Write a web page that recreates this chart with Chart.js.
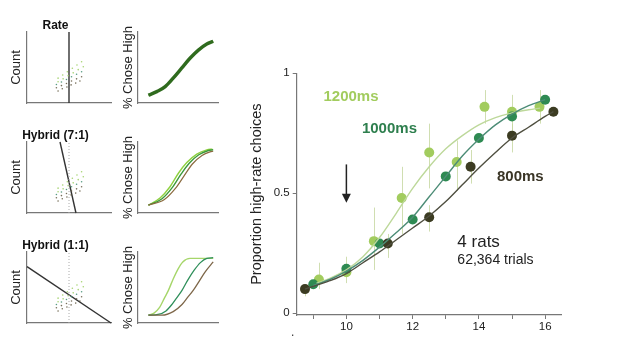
<!DOCTYPE html>
<html>
<head>
<meta charset="utf-8">
<script src="https://cdn.jsdelivr.net/npm/chart.js@4.4.1/dist/chart.umd.min.js"></script>
<style>
  html, body { margin: 0; padding: 0; background: #fff; }
  body { width: 617px; height: 350px; position: relative; overflow: hidden; font-family: "Liberation Sans", Arial, sans-serif; }
  canvas { position: absolute; }
  .dot { position: absolute; left: 291px; top: 325px; font-size: 12px; color: #333; }
</style>
</head>
<body>
<canvas id="count1" width="115" height="110" style="left:0;top:0"></canvas>
<canvas id="count2" width="115" height="110" style="left:0;top:110px"></canvas>
<canvas id="count3" width="115" height="110" style="left:0;top:220px"></canvas>
<canvas id="chose1" width="110" height="110" style="left:110px;top:0"></canvas>
<canvas id="chose2" width="110" height="110" style="left:110px;top:110px"></canvas>
<canvas id="chose3" width="110" height="110" style="left:110px;top:220px"></canvas>
<canvas id="results" width="377" height="300" style="left:240px;top:50px"></canvas>
<div class="dot">.</div>
<script>
'use strict';

// ---- main panel: proportion of high-rate choices per stimulus rate ----
const X_800 = [8.75, 11.25, 12.5, 13.75, 15, 16.25];
const Y_800 = [0.10, 0.29, 0.40, 0.61, 0.74, 0.84];
const LO_800 = [0.07, 0.23, 0.34, 0.54, 0.67, 0.84];
const HI_800 = [0.12, 0.33, 0.45, 0.68, 0.79, 0.84];

const X_1000 = [9, 10, 11, 12, 13, 14, 15, 16];
const Y_1000 = [0.12, 0.185, 0.29, 0.39, 0.57, 0.73, 0.82, 0.89];

const X_1200 = [9.17, 10, 10.83, 11.67, 12.5, 13.33, 14.17, 15, 15.83];
const Y_1200 = [0.14, 0.17, 0.30, 0.48, 0.67, 0.63, 0.86, 0.84, 0.86];
const LO_1200 = [0.10, 0.125, 0.18, 0.33, 0.52, 0.51, 0.79, 0.73, 0.79];
const HI_1200 = [0.21, 0.235, 0.44, 0.61, 0.79, 0.72, 0.93, 0.91, 0.93];

// fitted curves
const FIT_800_X = [8.75, 9.5, 10, 10.5, 11, 11.5, 12, 12.5, 13, 13.5, 14, 14.5, 15, 15.5, 16, 16.25];
const FIT_800_Y = [0.10, 0.135, 0.165, 0.21, 0.255, 0.305, 0.355, 0.405, 0.465, 0.535, 0.605, 0.67, 0.73, 0.775, 0.82, 0.84];
const FIT_1000_X = [9, 9.5, 10, 10.5, 11, 11.5, 12, 12.5, 13, 13.5, 14, 14.5, 15, 15.5, 16];
const FIT_1000_Y = [0.115, 0.14, 0.175, 0.22, 0.275, 0.335, 0.40, 0.485, 0.57, 0.655, 0.725, 0.785, 0.83, 0.865, 0.89];
const FIT_1200_X = [9.1, 9.5, 10, 10.5, 11, 11.5, 12, 12.5, 13, 13.5, 14, 14.5, 15, 15.5, 15.85];
const FIT_1200_Y = [0.125, 0.145, 0.18, 0.235, 0.315, 0.415, 0.52, 0.61, 0.685, 0.74, 0.785, 0.815, 0.835, 0.848, 0.855];

const X_TICK_VALUES = [9, 10, 11, 12, 13, 14, 15, 16];
const X_TICK_LABELS = ['', '10', '', '12', '', '14', '', '16'];
const Y_TICK_VALUES = [0, 0.5, 1];
const Y_TICK_LABELS = ['0', '0.5', '1'];

const ARROW_X = 10;
const ARROW_Y = [0.62, 0.46];

// ---- schematic panels ----
const DOT_LIGHT_X = [3.7, 4.25, 4.8, 5.4, 5.95, 6.5, 3.7, 4.3, 4.9, 5.5, 6.1, 6.7];
const DOT_LIGHT_Y = [3.5, 3.95, 4.4, 4.9, 5.35, 5.8, 3.0, 3.4, 3.85, 4.25, 4.7, 5.1];
const DOT_MED_X = [3.5, 4.1, 4.7, 5.3, 5.9, 6.5];
const DOT_MED_Y = [2.6, 2.95, 3.3, 3.7, 4.05, 4.4];
const DOT_DARK_X = [3.5, 4.1, 4.7, 5.3, 5.9, 6.5, 3.7, 4.2, 4.75, 5.25, 5.8, 6.3];
const DOT_DARK_Y = [2.15, 2.45, 2.75, 3.1, 3.4, 3.7, 1.7, 2.0, 2.25, 2.55, 2.8, 3.1];

const BOUND_RATE_X = [5, 5];
const BOUND_RATE_Y = [0, 10];
const BOUND_71_X = [3.93, 5.83];
const BOUND_71_Y = [10, 0];
const BOUND_11_X = [0, 10];
const BOUND_11_Y = [7.93, 0];

const CH1_X = [1.3, 2.35, 3.4, 4.4, 5.45, 6.5, 7.55, 8.6, 9.4];
const CH1_Y = [0.11, 0.16, 0.23, 0.35, 0.49, 0.63, 0.745, 0.83, 0.87];

const CH2_LIGHT_X = [1.3, 2.75, 4.0, 5.05, 6.1, 7.35, 8.6, 9.3];
const CH2_LIGHT_Y = [0.11, 0.21, 0.37, 0.56, 0.71, 0.83, 0.89, 0.90];
const CH2_MED_X = [1.3, 3.0, 4.3, 5.4, 6.4, 7.6, 8.8, 9.4];
const CH2_MED_Y = [0.11, 0.20, 0.36, 0.55, 0.70, 0.82, 0.88, 0.89];
const CH2_BROWN_X = [1.3, 3.3, 4.7, 5.8, 6.8, 8.0, 9.0, 9.4];
const CH2_BROWN_Y = [0.11, 0.19, 0.35, 0.53, 0.69, 0.81, 0.86, 0.87];

const CH3_LIGHT_X = [1.3, 2, 2.7, 3.3, 3.8, 4.4, 5, 5.6, 6.5, 9.4];
const CH3_LIGHT_Y = [0.11, 0.14, 0.22, 0.35, 0.46, 0.62, 0.76, 0.86, 0.91, 0.91];
const CH3_MED_X = [1.3, 2.5, 3.5, 4.3, 5, 5.5, 6.2, 7, 7.8, 8.6, 9.4];
const CH3_MED_Y = [0.11, 0.12, 0.17, 0.27, 0.38, 0.46, 0.60, 0.74, 0.85, 0.91, 0.92];
const CH3_BROWN_X = [1.3, 3, 4.4, 5.5, 6.2, 6.9, 7.6, 8.4, 9.4];
const CH3_BROWN_Y = [0.11, 0.11, 0.16, 0.26, 0.36, 0.46, 0.58, 0.72, 0.86];

Chart.defaults.font.family = '"Liberation Sans", Arial, sans-serif';
Chart.defaults.color = '#222';

function pairs(xs, ys) {
    return xs.map((x, i) => ({ x: x, y: ys[i] }));
}

const AXIS_BORDER = { display: true, color: '#777', width: 1.2 };

function curve(xs, ys, color, width) {
    return {
        data: pairs(xs, ys), borderColor: color, borderWidth: width,
        pointRadius: 0, fill: false, cubicInterpolationMode: 'monotone', clip: false
    };
}

function dots(xs, ys, color) {
    return {
        data: pairs(xs, ys), showLine: false, pointRadius: 0.8,
        pointBackgroundColor: color, pointBorderWidth: 0, clip: false
    };
}

// Left column: "Count" panels with decision boundary
function countPanel(id, title, bx, by, dotted) {
    const datasets = [
        dots(DOT_LIGHT_X, DOT_LIGHT_Y, 'rgba(150, 205, 90, 0.85)'),
        dots(DOT_MED_X, DOT_MED_Y, 'rgba(60, 140, 110, 0.85)'),
        dots(DOT_DARK_X, DOT_DARK_Y, 'rgba(95, 85, 60, 0.85)')
    ];
    if (dotted) {
        datasets.unshift({
            data: pairs(BOUND_RATE_X, BOUND_RATE_Y), borderColor: '#aaa', borderWidth: 1,
            borderDash: [1, 2], pointRadius: 0, clip: false
        });
    }
    datasets.push({
        data: pairs(bx, by), borderColor: '#333', borderWidth: 1.4, pointRadius: 0, clip: false
    });
    new Chart(document.getElementById(id), {
        type: 'line',
        data: { datasets: datasets },
        options: {
            responsive: false, animation: false,
            layout: { padding: { left: 0, right: 4, top: 0, bottom: 7 } },
            plugins: {
                legend: { display: false }, tooltip: { enabled: false },
                title: {
                    display: true, text: title, color: '#111',
                    font: { size: 12, weight: 'bold', lineHeight: 1 },
                    padding: { top: 20, bottom: 0 }
                }
            },
            scales: {
                x: {
                    type: 'linear', min: 0, max: 10,
                    ticks: { display: false }, grid: { display: false }, border: AXIS_BORDER,
                    afterFit: s => { s.height = 0; }
                },
                y: {
                    min: 0, max: 10,
                    ticks: { display: false }, grid: { display: false }, border: AXIS_BORDER,
                    title: { display: true, text: 'Count', color: '#222', font: { size: 13 }, padding: { top: 8.5, bottom: 0 } },
                    afterFit: s => { s.width = 27; }
                }
            }
        }
    });
}

// Middle column: "% Chose High" psychometric sketches
function chosePanel(id, datasets) {
    new Chart(document.getElementById(id), {
        type: 'line',
        data: { datasets: datasets },
        options: {
            responsive: false, animation: false,
            layout: { padding: { left: 0, right: 2, top: 32, bottom: 7 } },
            plugins: { legend: { display: false }, tooltip: { enabled: false } },
            scales: {
                x: {
                    type: 'linear', min: 0, max: 10,
                    ticks: { display: false }, grid: { display: false }, border: AXIS_BORDER,
                    afterFit: s => { s.height = 0; }
                },
                y: {
                    min: 0, max: 1,
                    ticks: { display: false }, grid: { display: false }, border: AXIS_BORDER,
                    title: { display: true, text: '% Chose High', color: '#222', font: { size: 13 }, padding: { top: 10.2, bottom: 0 } },
                    afterFit: s => { s.width = 28; }
                }
            }
        }
    });
}

countPanel('count1', 'Rate', BOUND_RATE_X, BOUND_RATE_Y, false);
countPanel('count2', 'Hybrid (7:1)', BOUND_71_X, BOUND_71_Y, true);
countPanel('count3', 'Hybrid (1:1)', BOUND_11_X, BOUND_11_Y, true);

chosePanel('chose1', [
    curve(CH1_X, CH1_Y, '#2f6b1e', 3.4),
    curve(CH1_X, CH1_Y, '#93d444', 1.1)
]);
chosePanel('chose2', [
    curve(CH2_BROWN_X, CH2_BROWN_Y, '#8a6a3e', 1.2),
    curve(CH2_MED_X, CH2_MED_Y, '#3c9a3a', 1.4),
    curve(CH2_LIGHT_X, CH2_LIGHT_Y, '#8fd13f', 1.4)
]);
chosePanel('chose3', [
    curve(CH3_BROWN_X, CH3_BROWN_Y, '#7d6648', 1.3),
    curve(CH3_MED_X, CH3_MED_Y, '#2f8f5a', 1.3),
    curve(CH3_LIGHT_X, CH3_LIGHT_Y, '#a6d66a', 1.4)
]);

// error bars under everything, arrow and labels on top
const mainExtras = {
    id: 'mainExtras',
    beforeDatasetsDraw(chart) {
        const { ctx, scales: { x, y } } = chart;
        ctx.save();
        ctx.strokeStyle = 'rgba(196, 214, 158, 0.8)';
        ctx.lineWidth = 1;
        [[X_1200, LO_1200, HI_1200], [X_800, LO_800, HI_800]].forEach(([xs, lo, hi]) => {
            xs.forEach((v, i) => {
                const px = Math.round(x.getPixelForValue(v)) + 0.5;
                ctx.beginPath();
                ctx.moveTo(px, y.getPixelForValue(lo[i]));
                ctx.lineTo(px, y.getPixelForValue(hi[i]));
                ctx.stroke();
            });
        });
        ctx.restore();
    },
    afterDatasetsDraw(chart) {
        const { ctx, scales: { x, y } } = chart;
        ctx.save();
        // arrow
        const ax = x.getPixelForValue(ARROW_X);
        const top = y.getPixelForValue(ARROW_Y[0]);
        const tip = y.getPixelForValue(ARROW_Y[1]);
        ctx.strokeStyle = '#222';
        ctx.fillStyle = '#222';
        ctx.lineWidth = 1.5;
        ctx.beginPath();
        ctx.moveTo(ax, top);
        ctx.lineTo(ax, tip - 6);
        ctx.stroke();
        ctx.beginPath();
        ctx.moveTo(ax - 4.5, tip - 9);
        ctx.lineTo(ax + 4.5, tip - 9);
        ctx.lineTo(ax, tip);
        ctx.closePath();
        ctx.fill();

        // labels
        const labels = [
            { text: '1200ms', x: 10.14, y: 0.90, color: '#a2cc5e', font: 'bold 15px "Liberation Sans"', align: 'center' },
            { text: '1000ms', x: 11.3, y: 0.767, color: '#2e7f4e', font: 'bold 15px "Liberation Sans"', align: 'center' },
            { text: '800ms', x: 15.25, y: 0.57, color: '#3a3526', font: 'bold 15px "Liberation Sans"', align: 'center' },
            { text: '4 rats', x: 13.35, y: 0.294, color: '#222', font: '17px "Liberation Sans"', align: 'left' },
            { text: '62,364 trials', x: 13.35, y: 0.219, color: '#222', font: '14px "Liberation Sans"', align: 'left' }
        ];
        ctx.textBaseline = 'middle';
        for (const l of labels) {
            ctx.font = l.font;
            ctx.fillStyle = l.color;
            ctx.textAlign = l.align;
            ctx.fillText(l.text, x.getPixelForValue(l.x), y.getPixelForValue(l.y));
        }
        ctx.restore();
    }
};

function points(xs, ys, color) {
    return {
        data: pairs(xs, ys), showLine: false, pointRadius: 5,
        pointBackgroundColor: color, pointBorderWidth: 0, clip: false
    };
}

new Chart(document.getElementById('results'), {
    type: 'line',
    data: {
        datasets: [
            curve(FIT_800_X, FIT_800_Y, '#4f4f40', 1.4),
            curve(FIT_1000_X, FIT_1000_Y, '#4c8c76', 1.4),
            curve(FIT_1200_X, FIT_1200_Y, '#bdd89a', 1.4),
            points(X_800, Y_800, '#3c3c22'),
            points(X_1000, Y_1000, '#2e8a52'),
            points(X_1200, Y_1200, '#a2cc5e')
        ]
    },
    options: {
        responsive: false, animation: false,
        layout: { padding: { left: 0, right: 55.3, top: 23.3, bottom: 10 } },
        plugins: { legend: { display: false }, tooltip: { enabled: false } },
        scales: {
            x: {
                type: 'linear', min: 8.5, max: 16.5,
                afterBuildTicks: s => { s.ticks = X_TICK_VALUES.map(v => ({ value: v })); },
                ticks: {
                    padding: 1, color: '#222', font: { size: 11.5 }, autoSkip: false, maxRotation: 0,
                    callback: (v, i) => X_TICK_LABELS[i]
                },
                grid: { drawOnChartArea: false, drawTicks: true, tickLength: 4, color: '#777' },
                border: AXIS_BORDER,
                afterFit: s => { s.height = 25; }
            },
            y: {
                min: -0.008, max: 1,
                afterBuildTicks: s => { s.ticks = Y_TICK_VALUES.map(v => ({ value: v })); },
                ticks: {
                    padding: 3, color: '#222', font: { size: 11.5 }, autoSkip: false,
                    callback: (v, i) => Y_TICK_LABELS[i]
                },
                grid: { drawOnChartArea: false, drawTicks: true, tickLength: 4, color: '#777' },
                border: AXIS_BORDER,
                title: {
                    display: true, text: 'Proportion high-rate choices', color: '#222',
                    font: { size: 14.5 }, padding: { top: 8, bottom: 0 }
                },
                afterFit: s => { s.width = 56.7; }
            }
        }
    },
    plugins: [mainExtras]
});
</script>
</body>
</html>
